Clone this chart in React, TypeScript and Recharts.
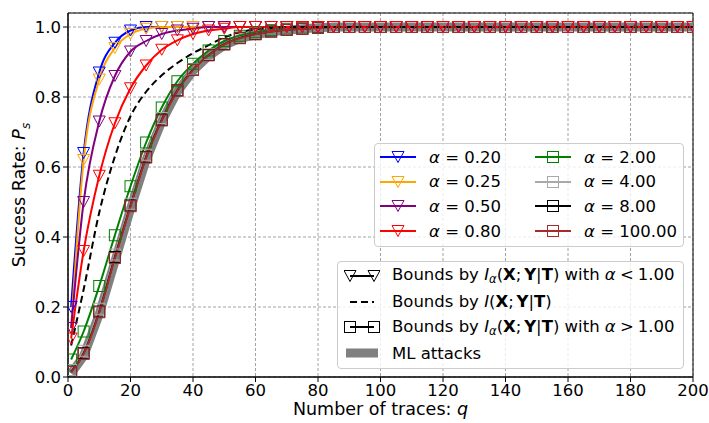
import React from "react";
import { CartesianGrid, Line, LineChart, ReferenceArea, XAxis, YAxis } from "recharts";

// number of traces q where the curves were sampled (markers every 5)
const traces = [
  1, 5, 10, 15, 20, 25, 30, 35, 40, 45, 50, 55, 60, 65, 70, 75, 80, 85, 90, 95, 100,
  105, 110, 115, 120, 125, 130, 135, 140, 145, 150, 155, 160, 165, 170, 175, 180, 185, 190, 195, 200,
];
const xTicks = [0, 20, 40, 60, 80, 100, 120, 140, 160, 180, 200];
const yTicks = [0, 0.2, 0.4, 0.6, 0.8, 1.0];

// curves; after they saturate they stay at 1.0
const alpha020 = [0.2, 0.64, 0.87, 0.955, 0.99, 1.0];
const alpha025 = [0.14, 0.62, 0.85, 0.94, 0.98, 0.995, 1.0];
const alpha050 = [0.14, 0.5, 0.73, 0.86, 0.93, 0.96, 0.98, 0.99, 0.995, 1.0];
const alpha080 = [0.11, 0.36, 0.575, 0.725, 0.825, 0.89, 0.935, 0.962, 0.98, 0.99, 0.995, 1.0];
const shannon = [0.09, 0.25, 0.47, 0.63, 0.745, 0.815, 0.862, 0.897, 0.925, 0.948, 0.97, 0.985, 0.993, 0.997, 1.0];
const alpha2 = [0.05, 0.13, 0.26, 0.405, 0.545, 0.67, 0.77, 0.845, 0.895, 0.933, 0.96, 0.975, 0.985, 0.991, 0.995, 0.998, 1.0];
const alpha4 = [0.02, 0.075, 0.195, 0.35, 0.495, 0.635, 0.74, 0.82, 0.88, 0.922, 0.952, 0.97, 0.981, 0.988, 0.993, 0.996, 0.998, 1.0];
const alpha8 = [0.015, 0.068, 0.187, 0.343, 0.49, 0.629, 0.735, 0.819, 0.878, 0.92, 0.951, 0.969, 0.98, 0.987, 0.992, 0.995, 0.998, 1.0];
const alpha100 = [0.014, 0.066, 0.185, 0.34, 0.488, 0.627, 0.733, 0.818, 0.877, 0.919, 0.95, 0.968, 0.979, 0.987, 0.992, 0.995, 0.998, 1.0];
const mlAttack = [0.01, 0.06, 0.18, 0.33, 0.48, 0.62, 0.73, 0.815, 0.875, 0.917, 0.948, 0.967, 0.978, 0.986, 0.991, 0.995, 0.998, 1.0];

const full = (v: number[]) => [...v, ...Array(traces.length - v.length).fill(1)];

type S = { id: string; label: string; color: string; values: number[]; marker: "tri" | "sq" };
const lowSeries: S[] = [
  { id: "a020", label: "0.20", color: "#0000ff", values: alpha020, marker: "tri" },
  { id: "a025", label: "0.25", color: "#ffa500", values: alpha025, marker: "tri" },
  { id: "a050", label: "0.50", color: "#800080", values: alpha050, marker: "tri" },
  { id: "a080", label: "0.80", color: "#ff0000", values: alpha080, marker: "tri" },
];
const highSeries: S[] = [
  { id: "a2", label: "2.00", color: "#008000", values: alpha2, marker: "sq" },
  { id: "a4", label: "4.00", color: "#a9a9a9", values: alpha4, marker: "sq" },
  { id: "a8", label: "8.00", color: "#000000", values: alpha8, marker: "sq" },
  { id: "a100", label: "100.00", color: "#a52a2a", values: alpha100, marker: "sq" },
];

const data = traces.map((q, i) => {
  const row: Record<string, number> = { q, ml: full(mlAttack)[i], shannon: full(shannon)[i] };
  [...lowSeries, ...highSeries].forEach((s) => (row[s.id] = full(s.values)[i]));
  return row;
});

const FONT = "'DejaVu Sans', sans-serif";
const FS = 16.5;
const LABEL_FS = 17.5;

const triPoints = (cx: number, cy: number) =>
  `${cx - 6},${cy - 5.5} ${cx + 6},${cy - 5.5} ${cx},${cy + 5.5}`;

const makeDot = (s: S) => (p: any) => {
  const { cx, cy, index } = p;
  if (cx == null || cy == null) return <g key={index} />;
  if (s.marker === "tri")
    return <polygon key={index} points={triPoints(cx, cy)} fill="none" stroke={s.color} strokeWidth={1} />;
  return <rect key={index} x={cx - 5.5} y={cy - 5.5} width={11} height={11} fill="none" stroke={s.color} strokeWidth={1} />;
};

function Handle({ s }: { s: S }) {
  return (
    <svg width={36} height={14} style={{ display: "block" }}>
      <line x1={0} y1={7} x2={36} y2={7} stroke={s.color} strokeWidth={2} />
      {s.marker === "tri" ? (
        <polygon points={triPoints(18, 7)} fill="none" stroke={s.color} strokeWidth={1} />
      ) : (
        <rect x={12.5} y={1.5} width={11} height={11} fill="none" stroke={s.color} strokeWidth={1} />
      )}
    </svg>
  );
}

const boxStyle: React.CSSProperties = {
  position: "absolute",
  background: "rgba(255,255,255,0.8)",
  border: "1px solid #cccccc",
  borderRadius: 4,
  boxSizing: "border-box",
  fontFamily: FONT,
  fontSize: FS,
  color: "#000",
};

function AlphaLegend() {
  const col = (list: S[], left: number) =>
    list.map((s, i) => (
      <div key={s.id} style={{ position: "absolute", left, top: 5 + i * 24.7, height: 16, display: "flex", alignItems: "center", whiteSpace: "nowrap" }}>
        <Handle s={s} />
        <span style={{ marginLeft: 13 }}>
          <i>α</i> = {s.label}
        </span>
      </div>
    ));
  return (
    <div style={{ ...boxStyle, left: 374, top: 143, width: 310, height: 104 }}>
      {col(lowSeries, 5)}
      {col(highSeries, 160)}
    </div>
  );
}

const Mi = () => (
  <>
    <i>I</i>
    <sub style={{ fontSize: "0.7em", verticalAlign: "-0.3em" }}>
      <i>α</i>
    </sub>
    (<b>X</b>;{"\u2006"}<b>Y</b>|<b>T</b>)
  </>
);

function BoundLegend() {
  const rows: [React.ReactNode, React.ReactNode][] = [
    [
      <svg width={36} height={14} style={{ display: "block" }}>
        <line x1={6} y1={7} x2={30} y2={7} stroke="#000" strokeWidth={2} />
        <polygon points={triPoints(6, 7)} fill="none" stroke="#000" strokeWidth={1} />
        <polygon points={triPoints(30, 7)} fill="none" stroke="#000" strokeWidth={1} />
      </svg>,
      <>
        Bounds by <Mi /> with <i>α</i>{"\u2005"}&lt;{"\u2005"}1.00
      </>,
    ],
    [
      <svg width={36} height={14} style={{ display: "block" }}>
        <line x1={6} y1={7} x2={30} y2={7} stroke="#000" strokeWidth={2} strokeDasharray="7 4" />
      </svg>,
      <>
        Bounds by <i>I</i>(<b>X</b>;{"\u2006"}<b>Y</b>|<b>T</b>)
      </>,
    ],
    [
      <svg width={36} height={14} style={{ display: "block" }}>
        <line x1={6} y1={7} x2={30} y2={7} stroke="#000" strokeWidth={2} />
        <rect x={0.5} y={1.5} width={11} height={11} fill="none" stroke="#000" strokeWidth={1} />
        <rect x={24.5} y={1.5} width={11} height={11} fill="none" stroke="#000" strokeWidth={1} />
      </svg>,
      <>
        Bounds by <Mi /> with <i>α</i>{"\u2005"}&gt;{"\u2005"}1.00
      </>,
    ],
    [
      <svg width={36} height={14} style={{ display: "block" }}>
        <rect x={2} y={2.5} width={32} height={9} fill="#808080" />
      </svg>,
      <>ML attacks</>,
    ],
  ];
  return (
    <div style={{ ...boxStyle, left: 337, top: 261, width: 347, height: 108 }}>
      {rows.map(([h, t], i) => (
        <div key={i} style={{ position: "absolute", left: 6, top: 6 + i * 25.7, height: 16, display: "flex", alignItems: "center", whiteSpace: "nowrap" }}>
          {h}
          <span style={{ marginLeft: 12 }}>{t}</span>
        </div>
      ))}
    </div>
  );
}

export default function App() {
  const ordered = [...highSeries, ...lowSeries];
  return (
    <div style={{ position: "absolute", left: 0, top: 0, width: 709, height: 423, background: "#fff" }}>
      <LineChart width={709} height={423} data={data} margin={{ top: 13, right: 16, bottom: 0, left: 0 }}>
        <CartesianGrid stroke="#8a8a8a" strokeWidth={0.8} strokeDasharray="3 2" />
        <XAxis
          dataKey="q"
          type="number"
          domain={[0, 200]}
          ticks={xTicks}
          height={46}
          tickSize={5}
          tick={{ fontSize: FS, fill: "#000", fontFamily: FONT }}
          tickLine={{ stroke: "#000" }}
          axisLine={{ stroke: "#000" }}
          allowDataOverflow
        />
        <YAxis
          type="number"
          domain={[0, 1.04]}
          ticks={yTicks}
          width={68}
          tickSize={5}
          tickFormatter={(v: number) => v.toFixed(1)}
          tick={{ fontSize: FS, fill: "#000", fontFamily: FONT }}
          tickLine={{ stroke: "#000" }}
          axisLine={{ stroke: "#000" }}
          allowDataOverflow
        />
        <Line dataKey="ml" stroke="#808080" strokeWidth={9} dot={false} activeDot={false} type="linear" isAnimationActive={false} />
        {ordered.map((s) => (
          <Line
            key={s.id}
            dataKey={s.id}
            stroke={s.color}
            strokeWidth={2}
            type="monotone"
            dot={makeDot(s)}
            activeDot={false}
            isAnimationActive={false}
          />
        ))}
        <Line dataKey="shannon" stroke="#000" strokeWidth={2} strokeDasharray="7 4" type="monotone" dot={false} activeDot={false} isAnimationActive={false} />
        <ReferenceArea x1={0} x2={200} y1={0} y2={1.04} fill="none" stroke="#000" strokeWidth={1} ifOverflow="visible" />
      </LineChart>
      <AlphaLegend />
      <BoundLegend />
      <div style={{ position: "absolute", left: 0, width: 709, top: 399, textAlign: "center", paddingLeft: 68, paddingRight: 16, boxSizing: "border-box", fontFamily: FONT, fontSize: LABEL_FS }}>
        Number of traces: <i>q</i>
      </div>
      <div
        style={{
          position: "absolute",
          left: 21,
          top: 195,
          transform: "translate(-50%, -50%) rotate(-90deg)",
          whiteSpace: "nowrap",
          fontFamily: FONT,
          fontSize: LABEL_FS,
        }}
      >
        Success Rate: <i>P</i>
        <sub style={{ fontSize: "0.7em" }}>
          <i>s</i>
        </sub>
      </div>
    </div>
  );
}
